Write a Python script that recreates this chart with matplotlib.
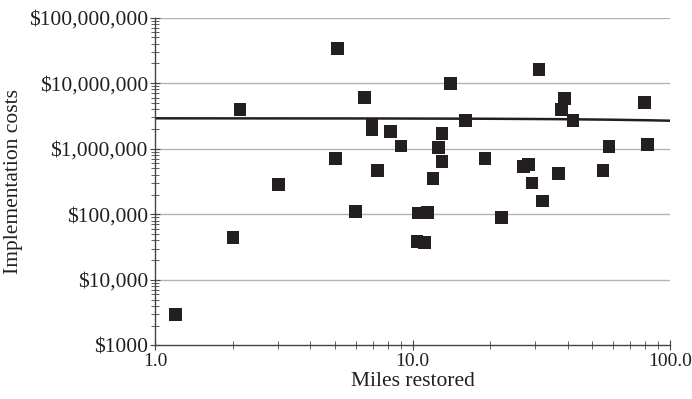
import numpy as np
import matplotlib
matplotlib.use('Agg')
import matplotlib.pyplot as plt
from matplotlib.ticker import FuncFormatter, LogLocator, NullFormatter

INK = '#231f20'
GRID = '#b4b4b4'

# miles restored vs implementation cost
miles = [1.2, 2.0, 2.13, 3.0, 5.0, 5.1, 6.0, 6.5, 6.95, 6.95, 7.3, 8.2, 9.0,
         10.4, 10.5, 11.1, 11.4, 12.0, 12.6, 13.0, 13.0, 14.0, 16.1, 19.1,
         22.2, 27.0, 28.2, 29.1, 31.0, 32.0, 37.0, 37.9, 39.0, 42.0, 55.0,
         58.0, 79.6, 81.7]
costs = [3.0e3, 4.4e4, 4.0e6, 2.87e5, 7.1e5, 3.4e7, 1.1e5, 6.1e6, 2.3e6, 1.93e6,
         4.7e5, 1.84e6, 1.1e6, 3.8e4, 1.05e5, 3.7e4, 1.08e5, 3.5e5, 1.04e6,
         1.7e6, 6.4e5, 9.9e6, 2.7e6, 7.0e5, 9.0e4, 5.4e5, 5.8e5, 3.0e5, 1.6e7,
         1.6e5, 4.2e5, 4.0e6, 5.8e6, 2.7e6, 4.7e5, 1.09e6, 5.0e6, 1.17e6]

# linear trend line, read at both ends of the x range
trend_miles = [1.0, 100.0]
trend_costs = [2.906e6, 2.672e6]

x_limits = [1.0, 100.0]
y_limits = [1e3, 1e8]
y_ticks = [1e3, 1e4, 1e5, 1e6, 1e7, 1e8]
y_tick_labels = ['$1000', '$10,000', '$100,000', '$1,000,000', '$10,000,000', '$100,000,000']

plt.rcParams['font.family'] = ['Liberation Serif', 'DejaVu Serif']

fig = plt.figure(figsize=(6.92, 3.99), dpi=100)
ax = fig.add_axes([0.2247, 0.1341, 0.968 - 0.2247, 0.9561 - 0.1341])

ax.set_xscale('log')
ax.set_yscale('log')
ax.set_xlim(x_limits)
ax.set_ylim(y_limits)

# horizontal grid at each decade
for v in y_ticks[1:]:
	ax.axhline(v, color=GRID, lw=1.0, zorder=1)

# trend is linear in miles, so it bends slightly on the log axes
b, a = np.polyfit(trend_miles, trend_costs, 1)
xs = np.logspace(0, 2, 200)
ax.plot(xs, a + b*xs, color=INK, lw=1.8, zorder=2)

ax.scatter(miles, costs, marker='s', s=85, c=INK, edgecolors='none', zorder=3)

# axis formatting
ax.xaxis.set_major_locator(LogLocator(base=10))
ax.xaxis.set_minor_locator(LogLocator(base=10, subs=np.arange(2, 10)))
ax.xaxis.set_major_formatter(FuncFormatter(lambda v, p: f'{v:.1f}'))
ax.xaxis.set_minor_formatter(NullFormatter())
ax.yaxis.set_minor_locator(LogLocator(base=10, subs=np.arange(2, 10)))
ax.set_yticks(y_ticks)
ax.set_yticklabels(y_tick_labels)
ax.yaxis.set_minor_formatter(NullFormatter())

for s in ['top', 'right']:
	ax.spines[s].set_visible(False)
for s in ['left', 'bottom']:
	ax.spines[s].set_color('#444444')
	ax.spines[s].set_linewidth(1.0)

ax.tick_params(axis='both', which='major', direction='inout', length=7, width=0.8,
			   color='#444444', labelcolor=INK, pad=2)
ax.tick_params(axis='y', which='major', labelsize=15.5)
ax.tick_params(axis='x', which='major', labelsize=14)
ax.tick_params(axis='both', which='minor', direction='inout', length=6, width=0.6,
			   color='#444444')

ax.set_xlabel('Miles restored', fontsize=15.5, color=INK, labelpad=1)
ax.set_ylabel('Implementation costs', fontsize=15.5, color=INK, labelpad=4)

fig.savefig('out.png', dpi=100)
